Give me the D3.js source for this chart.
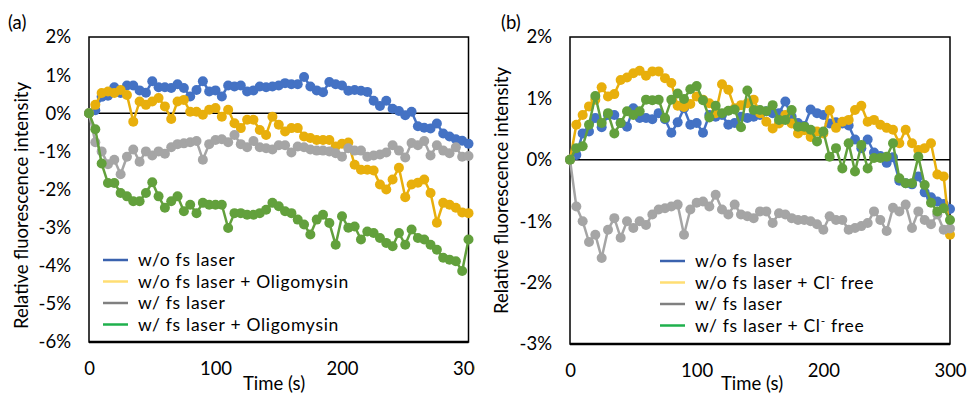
<!DOCTYPE html>
<html>
<head>
<meta charset="utf-8">
<script src="https://cdn.jsdelivr.net/npm/d3@7"></script>
<style>
  body { margin: 0; background: #fff; }
  text { font-family: Lato, "Open Sans", sans-serif; fill: #000; }
</style>
</head>
<body>
<svg id="chart" width="969" height="394"></svg>
<script>
// time axis (s), one sample every 5 s
const timeSec = [0,5,10,15,20,25,30,35,40,45,50,55,60,65,70,75,80,85,90,95,
  100,105,110,115,120,125,130,135,140,145,150,155,160,165,170,175,180,185,190,195,
  200,205,210,215,220,225,230,235,240,245,250,255,260,265,270,275,280,285,290,295,300];

// relative fluorescence intensity (%)
const woLaser = [0,0.08,0.43,0.46,0.68,0.53,0.73,0.73,0.6,0.54,
  0.84,0.68,0.68,0.66,0.76,0.66,0.44,0.61,0.84,0.57,
  0.6,0.44,0.73,0.7,0.73,0.57,0.6,0.7,0.68,0.7,
  0.73,0.79,0.76,0.76,0.95,0.7,0.6,0.55,0.82,0.76,
  0.73,0.59,0.61,0.59,0.56,0.33,0.19,0.33,0.12,0.06,
  -0.05,0.04,-0.34,-0.38,-0.4,-0.27,-0.53,-0.61,-0.68,-0.72,-0.8];

const wLaser = [0,-0.76,-1.0,-1.34,-1.22,-1.6,-1.14,-0.95,-1.27,-1.0,
  -1.11,-1.0,-1.06,-0.89,-0.81,-0.79,-0.76,-0.73,-1.22,-0.81,
  -0.7,-0.68,-0.76,-0.57,-0.81,-0.89,-0.73,-0.89,-0.92,-0.95,
  -0.84,-0.84,-1.03,-0.87,-0.89,-0.95,-0.98,-0.98,-1.0,-1.05,
  -1.14,-0.92,-0.98,-0.98,-1.14,-1.11,-1.08,-1.03,-0.84,-0.98,
  -1.16,-0.78,-0.84,-0.73,-1.11,-0.84,-0.98,-1.05,-0.89,-1.14,-1.12];

const woLaserOligo = [0,0.22,0.53,0.57,0.53,0.61,0.48,-0.22,0.31,0.22,
  0.31,0.4,0.18,-0.15,0.31,0.35,0.04,0.04,-0.04,0.09,
  0.14,-0.09,0.09,-0.26,-0.39,-0.17,-0.17,-0.44,-0.57,-0.09,
  -0.3,-0.48,-0.39,-0.39,-0.61,-0.65,-0.7,-0.7,-0.7,-0.87,
  -0.8,-0.77,-1.35,-1.48,-1.48,-1.5,-1.87,-2.0,-1.74,-1.43,
  -2.2,-1.87,-1.82,-1.74,-2.09,-2.87,-2.35,-2.4,-2.48,-2.6,-2.62];

const wLaserOligo = [0,-0.42,-1.32,-1.83,-1.83,-2.09,-2.18,-2.31,-2.31,-2.09,
  -1.81,-2.18,-2.48,-2.31,-2.18,-2.57,-2.4,-2.62,-2.35,-2.4,
  -2.4,-2.4,-3.01,-2.62,-2.62,-2.66,-2.66,-2.62,-2.53,-2.35,
  -2.44,-2.57,-2.62,-2.79,-2.92,-3.18,-2.79,-2.66,-2.88,-3.45,
  -2.7,-3.0,-2.97,-3.31,-3.1,-3.14,-3.27,-3.4,-3.49,-3.14,
  -3.45,-3.05,-3.27,-3.31,-3.45,-3.58,-3.79,-3.84,-3.88,-4.14,-3.31];

const woLaserClFree = [0,0.57,0.73,0.87,0.98,1.18,1.03,1.07,1.3,1.34,
  1.41,1.45,1.37,1.44,1.44,1.33,1.25,0.88,0.86,0.91,
  1.03,0.98,0.92,0.76,1.23,1.14,0.84,0.89,0.92,0.98,
  0.76,0.62,0.51,0.59,0.73,0.59,0.43,0.48,0.37,0.46,
  0.43,0.81,0.52,0.62,0.65,0.81,0.88,0.62,0.65,0.57,
  0.52,0.49,0.27,0.49,0.27,0.16,0.19,0.27,-0.24,-0.27,-1.22];

const wLaserClFree = [0,0.19,0.22,0.57,1.04,0.6,0.76,0.43,0.6,0.79,
  0.73,0.79,0.98,0.97,0.98,0.68,0.98,1.08,0.99,1.15,
  1.2,0.97,0.69,0.88,0.76,0.8,0.82,0.53,1.13,0.81,
  0.81,0.79,0.89,0.65,0.65,0.81,0.54,0.54,0.49,0.3,
  0.46,0.05,0.19,-0.14,0.27,-0.19,0.24,-0.14,0.03,0.03,
  0.05,0.27,-0.3,-0.38,-0.38,0.05,-0.41,-0.7,-0.84,-0.79,-0.98];

const xTicks = [0, 100, 200, 300];
const yTicksA = [-6, -5, -4, -3, -2, -1, 0, 1, 2];
const yTicksB = [-3, -2, -1, 0, 1, 2];
const legendA = ["w/o fs laser", "w/o fs laser + Oligomysin", "w/ fs laser", "w/ fs laser + Oligomysin"];
const legendB = ["w/o fs laser", "w/o fs laser + Cl^- free", "w/ fs laser", "w/ fs laser + Cl^- free"];

const markColors = ["#4472C4", "#E8AF0C", "#A5A5A5", "#62A03C"];
const keyColors = ["#3A62AE", "#FFDE73", "#808080", "#1FB04D"];

const svg = d3.select("#chart");

function drawPanel(p) {
  const g = svg.append("g");
  if (p.clipW) {
    svg.append("clipPath").attr("id", p.id + "-clip")
      .append("rect").attr("x", 0).attr("y", 0).attr("width", p.clipW).attr("height", 394);
    g.attr("clip-path", `url(#${p.id}-clip)`);
  }

  const x = d3.scaleLinear().domain([0, 300]).range([p.left, p.right]);
  const y = d3.scaleLinear().domain(p.yDomain).range([p.bottom, p.top]);

  // y axis labels
  g.append("g")
    .attr("transform", `translate(${p.left},0)`)
    .call(d3.axisLeft(y).tickValues(p.yTicks).tickSize(0).tickPadding(18).tickFormat(d => d + "%"))
    .call(a => a.select(".domain").remove())
    .selectAll("text").style("font-size", "18.5px").style("font-family", 'Lato, sans-serif');

  // x axis labels
  g.append("g")
    .attr("transform", `translate(0,${p.bottom})`)
    .call(d3.axisBottom(x).tickValues(xTicks).tickSize(0).tickPadding(20))
    .call(a => a.select(".domain").remove())
    .selectAll("text").style("font-size", "18.5px").style("font-family", 'Lato, sans-serif');

  // plot frame and zero line
  g.append("rect")
    .attr("x", p.left).attr("y", p.top)
    .attr("width", p.right - p.left).attr("height", p.bottom - p.top)
    .attr("fill", "none").attr("stroke", "#000").attr("stroke-width", 1.5);
  g.append("line")
    .attr("x1", p.left).attr("x2", p.right)
    .attr("y1", p.bottom).attr("y2", p.bottom)
    .attr("stroke", "#000").attr("stroke-width", 2.5);
  g.append("line")
    .attr("x1", p.left).attr("x2", p.right)
    .attr("y1", y(0)).attr("y2", y(0))
    .attr("stroke", "#000").attr("stroke-width", 1.5);

  const line = d3.line().x((d, i) => x(timeSec[i])).y(d => y(d));

  p.series.forEach((vals, k) => {
    const s = g.append("g");
    s.append("path").datum(vals)
      .attr("d", line).attr("fill", "none")
      .attr("stroke", markColors[k]).attr("stroke-width", 2.5);
    s.selectAll("circle").data(vals).join("circle")
      .attr("cx", (d, i) => x(timeSec[i])).attr("cy", d => y(d))
      .attr("r", 5).attr("fill", markColors[k]);
  });

  // legend
  const lg = g.append("g");
  p.labels.forEach((lab, k) => {
    const ly = p.legY + k * 21.5;
    lg.append("line")
      .attr("x1", p.legX).attr("x2", p.legX + 25)
      .attr("y1", ly + 1).attr("y2", ly + 1)
      .attr("stroke", keyColors[k]).attr("stroke-width", 2.5);
    const t = lg.append("text")
      .attr("x", p.legX + 35).attr("y", ly + 7)
      .style("font-size", "17.5px")
      .style("letter-spacing", "0.7px");
    const parts = lab.split("^-");
    t.append("tspan").text(parts[0]);
    if (parts.length > 1) {
      t.append("tspan").text("-").attr("baseline-shift", "super").style("font-size", "12px");
      t.append("tspan").text(parts[1]);
    }
  });

  // axis titles and panel tag
  g.append("text")
    .attr("transform", `translate(${p.yTitleX},${(p.top + p.bottom) / 2 + p.yTitleDy}) rotate(-90)`)
    .attr("text-anchor", "middle").attr("dy", "0.35em")
    .style("font-size", "18.5px")
    .text("Relative fluorescence intensity");
  g.append("text")
    .attr("x", p.timeX).attr("y", 390)
    .attr("text-anchor", "middle")
    .style("font-size", "18.5px")
    .text("Time (s)");
  g.append("text")
    .attr("x", p.tagX).attr("y", 29)
    .style("font-size", "18.5px")
    .text(p.tag);
}

drawPanel({
  id: "a", clipW: 475,
  left: 89, right: 468.5, top: 37, bottom: 342,
  yDomain: [-6, 2], yTicks: yTicksA,
  series: [woLaser, woLaserOligo, wLaser, wLaserOligo],
  labels: legendA, legX: 103, legY: 259,
  yTitleX: 22, yTitleDy: 16, timeX: 274, tagX: 8, tag: "(a)"
});

drawPanel({
  id: "b", clipW: 0,
  left: 570, right: 950, top: 37, bottom: 344,
  yDomain: [-3, 2], yTicks: yTicksB,
  series: [woLaser, woLaserClFree, wLaser, wLaserClFree],
  labels: legendB, legX: 660, legY: 260,
  yTitleX: 502, yTitleDy: 0, timeX: 752, tagX: 501, tag: "(b)"
});
</script>
</body>
</html>
